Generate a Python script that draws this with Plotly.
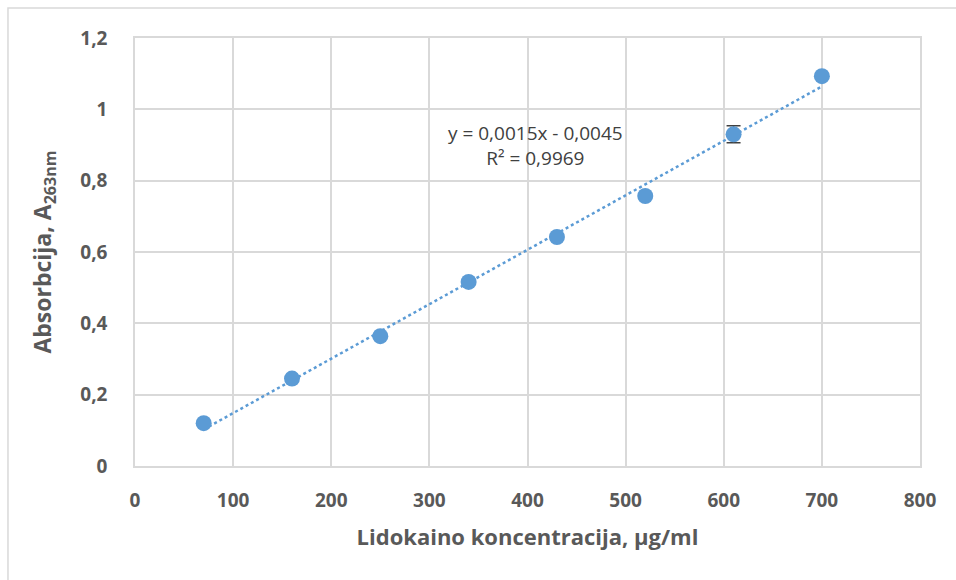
import numpy as np
import plotly.graph_objects as go

# Lidocaine calibration data
concentration = [70, 160, 250, 340, 430, 520, 610, 700]
absorbance = [0.120, 0.245, 0.364, 0.516, 0.642, 0.757, 0.930, 1.093]
abs_error = [0, 0, 0, 0, 0, 0, 0.024, 0]

x_ticks = [0, 100, 200, 300, 400, 500, 600, 700, 800]
y_ticks = [0, 0.2, 0.4, 0.6, 0.8, 1.0, 1.2]
y_tick_text = ["0", "0,2", "0,4", "0,6", "0,8", "1", "1,2"]

equation_text = "y = 0,0015x - 0,0045<br>R² = 0,9969"

BLUE = "#5b9bd5"
GRID = "#d9d9d9"
TEXT = "#595959"
FONT = "Open Sans, sans-serif"

# Linear least-squares trendline
slope, intercept = np.polyfit(concentration, absorbance, 1)
trend_x = np.array([concentration[0], concentration[-1]])
trend_y = slope * trend_x + intercept

fig = go.Figure()
fig.add_trace(go.Scatter(
    x=trend_x, y=trend_y, mode="lines",
    line=dict(color=BLUE, width=2.5, dash="dot"),
    hoverinfo="skip", showlegend=False,
))
fig.add_trace(go.Scatter(
    x=concentration, y=absorbance, mode="markers",
    marker=dict(color=BLUE, size=16),
    error_y=dict(type="data", array=abs_error, visible=True,
                 color="#404040", thickness=1.5, width=7),
    showlegend=False,
))

fig.add_annotation(
    x=408, y=0.9, xref="x", yref="y", text=equation_text,
    showarrow=False, align="center",
    font=dict(family=FONT, size=19, color="#404040"),
)

# Outer chart border
fig.add_shape(type="rect", xref="paper", yref="paper",
              x0=-0.1618, x1=1.2, y0=-0.4, y1=1.0701,
              line=dict(color=GRID, width=1.5), layer="below")

fig.update_layout(
    width=956, height=580,
    margin=dict(l=135, r=36, t=38, b=114),
    paper_bgcolor="white", plot_bgcolor="white",
    font=dict(family=FONT, color=TEXT),
)
fig.update_xaxes(
    range=[0, 800], tickvals=x_ticks, ticktext=[str(v) for v in x_ticks],
    showgrid=True, gridcolor=GRID, gridwidth=1.5,
    showline=True, linecolor=GRID, linewidth=1.5, mirror=True,
    zeroline=False, ticks="", ticklabelstandoff=16,
    tickfont=dict(family=FONT, size=19, color=TEXT, weight="bold"),
    title=dict(text="Lidokaino koncentracija, µg/ml", standoff=18,
               font=dict(family=FONT, size=22, color=TEXT, weight="bold")),
)
fig.update_yaxes(
    range=[0, 1.2], tickvals=y_ticks, ticktext=y_tick_text,
    showgrid=True, gridcolor=GRID, gridwidth=1.5,
    showline=True, linecolor=GRID, linewidth=1.5, mirror=True,
    zeroline=False, ticks="", ticklabelstandoff=22,
    tickfont=dict(family=FONT, size=19, color=TEXT, weight="bold"),
    title=dict(text="Absorbcija, A<sub>263nm</sub>", standoff=22,
               font=dict(family=FONT, size=23, color=TEXT, weight="bold")),
)

fig.write_html("out.html")
